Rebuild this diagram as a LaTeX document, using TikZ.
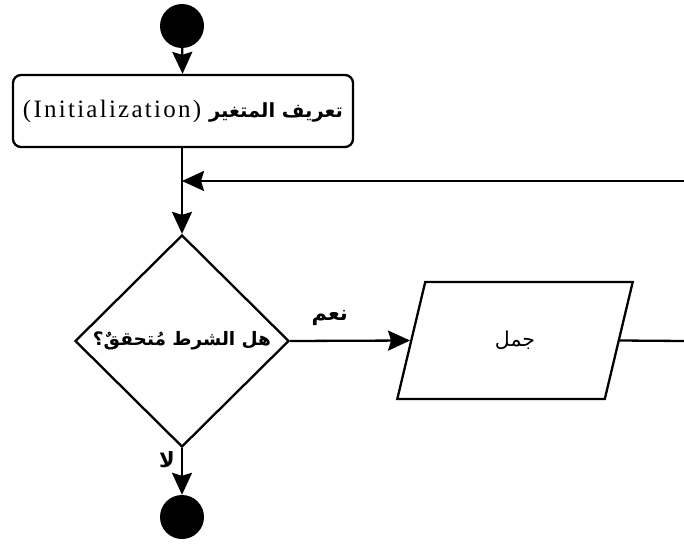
\documentclass[tikz,border=0pt]{standalone}
\usepackage{fontspec}
\setmainfont{Liberation Serif}
\newfontfamily\arabicfont[Script=Arabic]{DejaVu Sans}
\TeXXeTstate=1
\usetikzlibrary{arrows.meta,shapes.geometric}
\tikzset{
  flow/.style={line width=2.3pt, draw=black},
  arr/.style={flow, -{Stealth[length=22pt,width=20pt,inset=3pt]}},
  dot/.style={circle, fill=black, minimum size=44pt, inner sep=0pt},
  initbox/.style={draw, line width=2.3pt, rounded corners=8pt, minimum width=340pt, minimum height=72pt, inner sep=0pt},
  decision/.style={draw, line width=2.3pt, diamond, minimum width=214pt, minimum height=212pt, inner sep=0pt},
  iobox/.style={draw, line width=2.3pt, trapezium, trapezium left angle=71.57, trapezium right angle=108.43, trapezium stretches=true, minimum width=236pt, minimum height=117pt, inner sep=0pt},
  lbl/.style={font=\arabicfont\bfseries\fontsize{21}{24}\selectfont, inner sep=0pt}
}
\begin{document}
\begin{tikzpicture}[x=1pt,y=-1pt]
\useasboundingbox (0,0) rectangle (684,543);
\node[dot] (start) at (182,26) {};
\node[initbox] (init) at (183,111) {{\addfontfeature{LetterSpace=9}\fontsize{25}{28}\selectfont (Initialization)}\hspace{8pt}{\arabicfont\bfseries\fontsize{19.5}{22}\selectfont\beginR تعريف المتغير\endR}\hspace{10pt}};
\node[decision] (cond) at (182,341) {\arabicfont\bfseries\fontsize{18.5}{22}\selectfont\beginR هل الشرط مُتحققٌ؟\endR};
\node[iobox] (stmt) at (515,340.5) {\arabicfont\fontsize{20.5}{24}\selectfont\beginR جمل\endR};
\node[dot] (stop) at (182,517) {};
\coordinate (fb) at (684,181);
\coordinate (outR) at (684,341);
\draw[arr] (start) -- (init);
\draw[arr] (init.south -| cond.north) -- (cond.north);
\draw[arr] (fb) -- (fb -| cond.north);
\draw[arr] (cond.east) -- node[lbl, above=14pt, pos=0.33] (yes) {\beginR نعم\endR} (stmt.west);
\draw[flow] (stmt.east) -- (outR);
\draw[arr] (cond.south) -- node[lbl, left=6pt, pos=0.25] (no) {\beginR لا\endR} (stop);
\end{tikzpicture}
\end{document}
